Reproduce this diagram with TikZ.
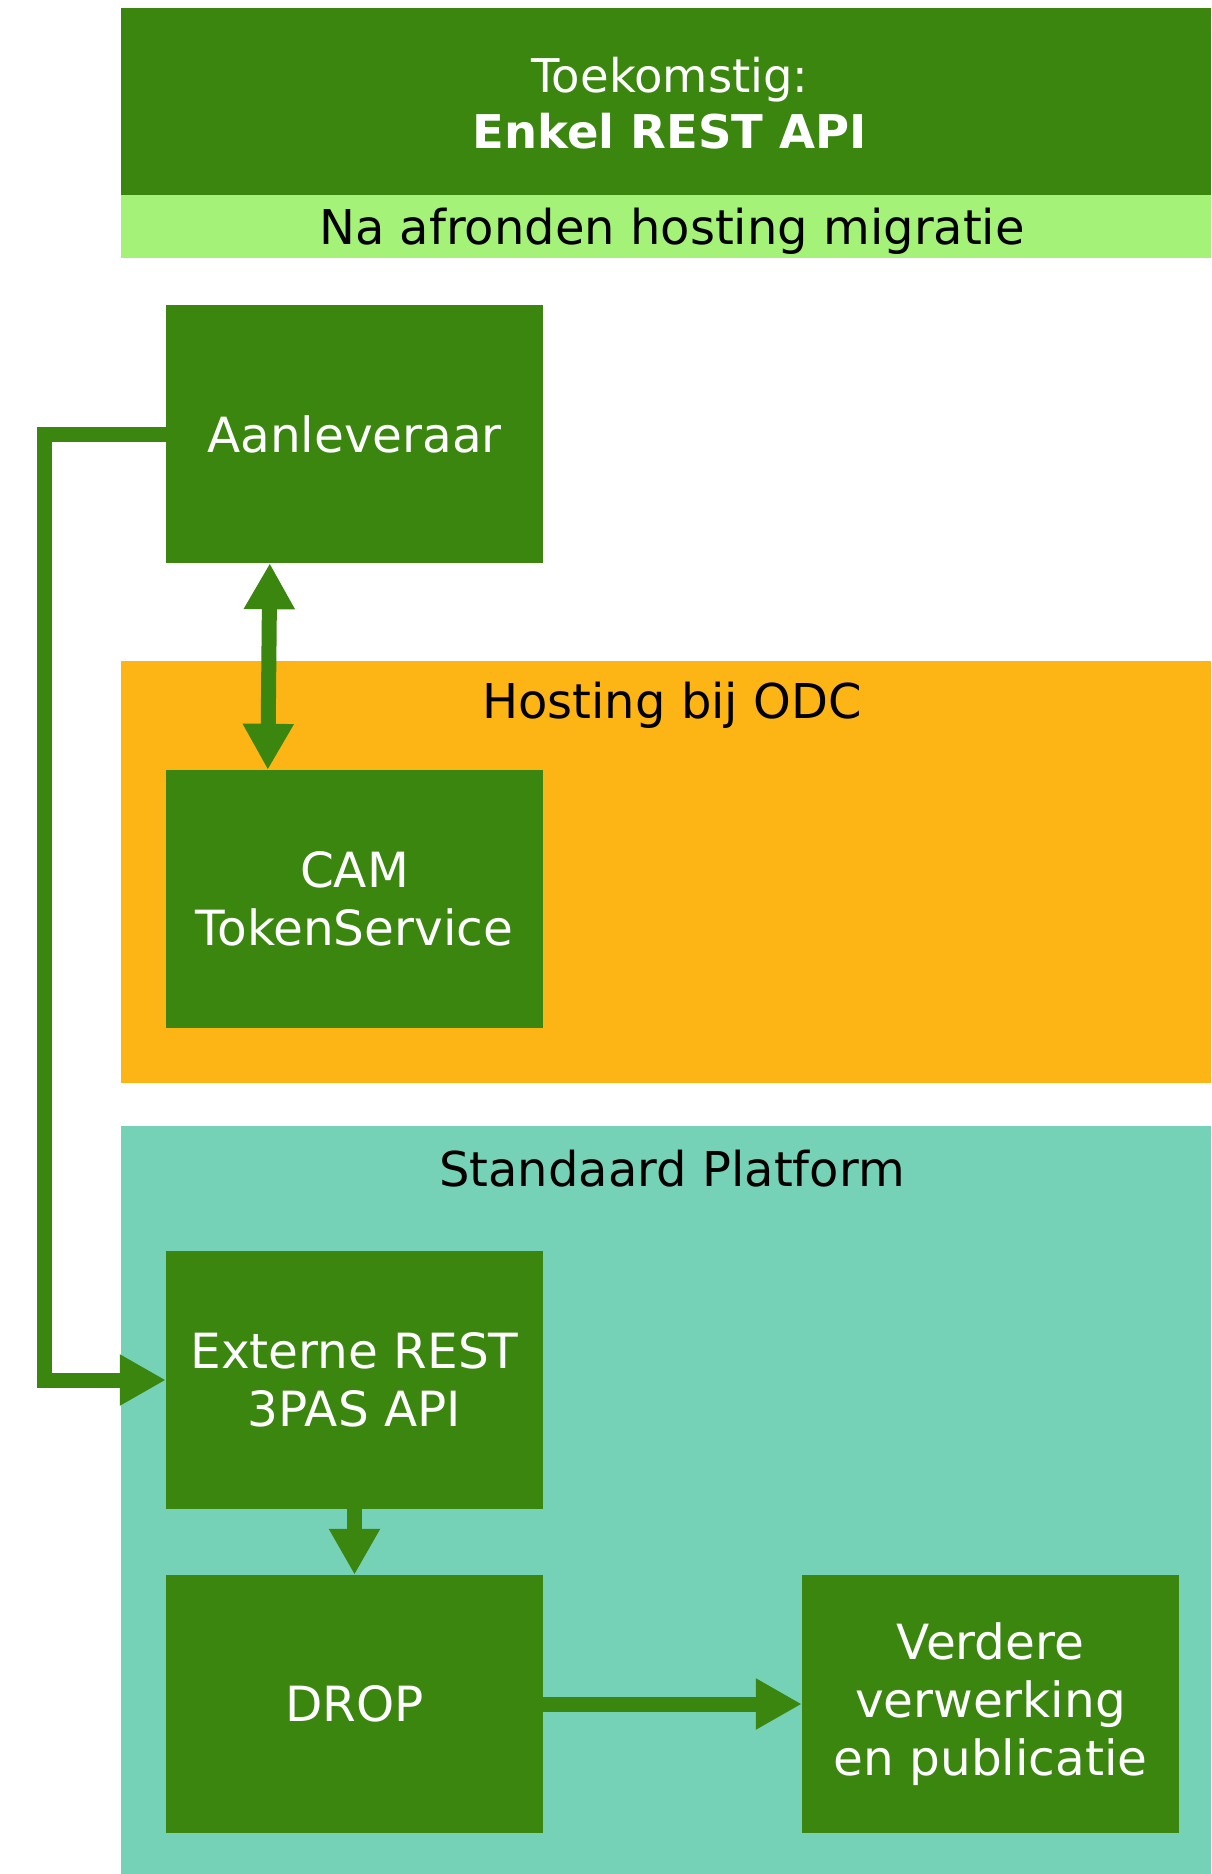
\documentclass[tikz,border=0pt]{standalone}
\usepackage{fontspec}
\setmainfont{DejaVu Sans}
\usetikzlibrary{arrows.meta,calc}
\definecolor{dgreen}{HTML}{3A860E}
\definecolor{lgreen}{HTML}{A5F279}
\definecolor{orangebg}{HTML}{FDB515}
\definecolor{tealbg}{HTML}{76D2B7}
\begin{document}
\begin{tikzpicture}[x=1pt,y=-1pt,
  box/.style={fill=dgreen, draw=none, minimum width=377pt, minimum height=258pt, inner sep=0pt, text=white, align=center, font=\fontsize{48.5}{58}\selectfont},
  lbl/.style={font=\fontsize{48}{57}\selectfont, text=black, inner sep=0pt, align=center},
  conn/.style={draw=dgreen, line width=15pt, line join=miter},
  >={Triangle[length=46pt,width=48pt]}
]
\useasboundingbox (0,0) rectangle (1211,1874);
\fill[white] (0,0) rectangle (1211,1874);
% containers
\fill[dgreen] (121,8) rectangle (1211,195);
\fill[lgreen] (121,195) rectangle (1211,258);
\fill[orangebg] (121,661) rectangle (1211,1083);
\fill[tealbg] (121,1126) rectangle (1211,1874);
% container labels
\node[lbl, text=white, font=\fontsize{46.5}{56}\selectfont] (title) at (670,103) {Toekomstig:\\\textbf{Enkel REST API}};
\node[lbl] (strip) at (672,231) {Na afronden hosting migratie};
\node[lbl] (odc) at (672,705) {Hosting bij ODC};
\node[lbl] (sp) at (672,1169) {Standaard Platform};
% boxes
\node[box] (aan) at (354.5,434) {Aanleveraar};
\node[box] (cam) at (354.5,899) {CAM\\TokenService};
\node[box] (ext) at (354.5,1380) {Externe REST\\3PAS API};
\node[box] (drop) at (354.5,1704) {DROP};
\node[box] (ver) at (990.5,1704) {Verdere\\verwerking\\en publicatie};
% connectors
\coordinate (lp1) at (44,434);
\coordinate (lp2) at (44,1380);
\draw[conn,->] (aan.west) -- (lp1) -- (lp2) -- (ext.west);
\draw[conn,<->] ($(aan.south west)+(104,0)$) -- ($(cam.north west)+(102,0)$);
\draw[conn,->] (ext.south) -- (drop.north);
\draw[conn,->] (drop.east) -- (ver.west);
\end{tikzpicture}
\end{document}
